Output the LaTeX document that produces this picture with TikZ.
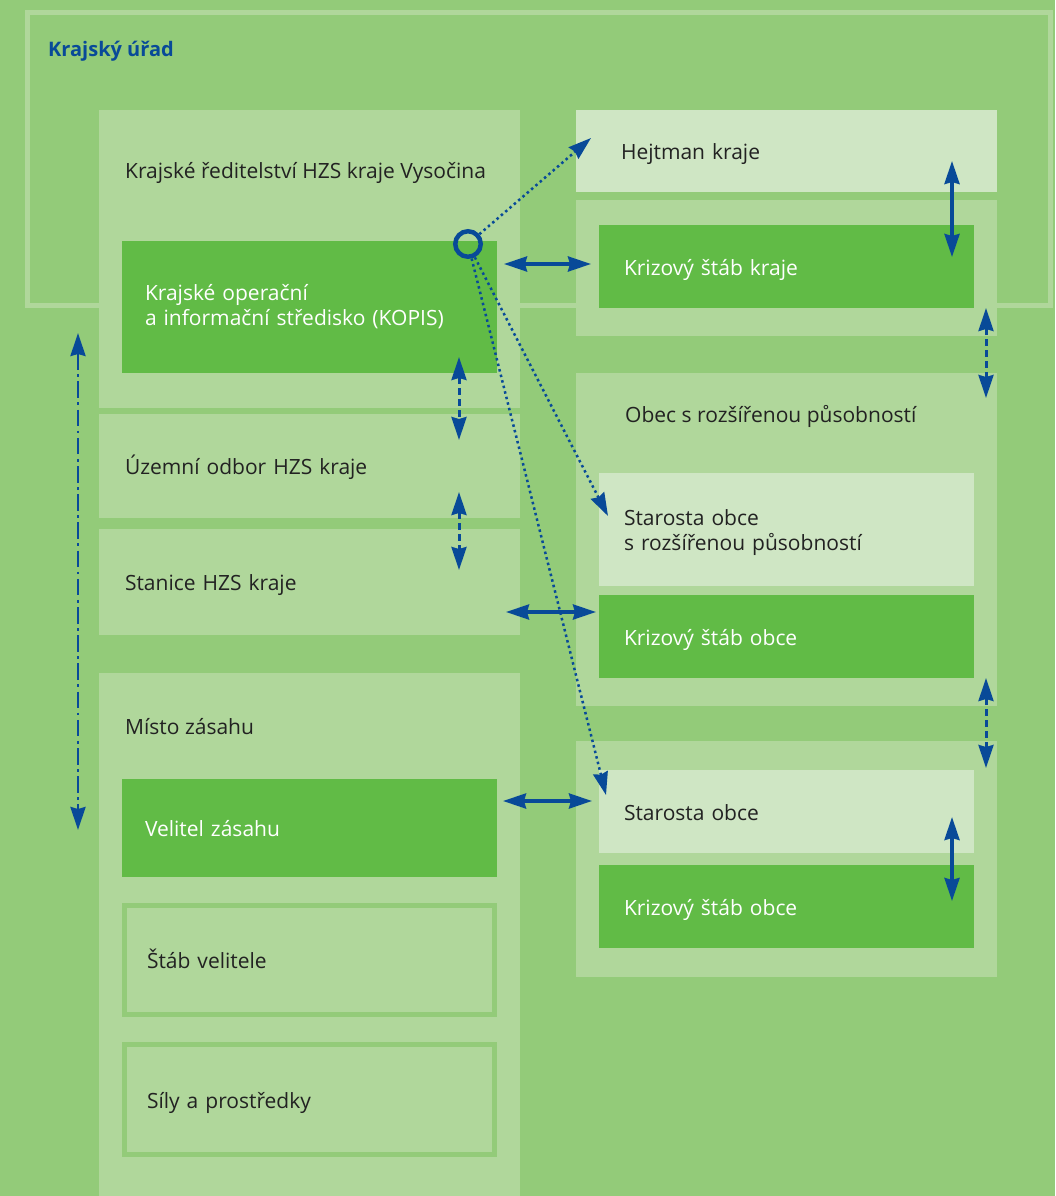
\documentclass[tikz,border=0pt]{standalone}
\usepackage{fontspec}
\setmainfont{Open Sans}
\usepackage{xcolor}
\usepackage{tikz}
\usetikzlibrary{positioning, arrows.meta}
\definecolor{bggreen}{RGB}{147,203,121}
\definecolor{panelgreen}{RGB}{176,215,155}
\definecolor{palegreen}{RGB}{207,230,196}
\definecolor{darkgreen}{RGB}{97,187,70}
\definecolor{hzsblue}{RGB}{8,74,152}
\definecolor{textgray}{RGB}{34,34,34}
\tikzset{
  panel box/.style={fill=panelgreen, anchor=north west, inner sep=0pt, outer sep=0pt, minimum width=421pt},
  text box/.style={anchor=north west, inner ysep=0pt, outer sep=0pt, align=left, text=textgray, text height=17pt, text depth=0pt, font=\fontsize{21pt}{25pt}\selectfont},
  wide box/.style={text box, fill=panelgreen, inner xsep=26pt, text width=369pt, minimum width=421pt},
  dark box/.style={text box, fill=darkgreen, text=white, inner xsep=25pt, text width=325pt, minimum width=375pt},
  pale box/.style={text box, fill=palegreen, inner xsep=25pt, text width=325pt, minimum width=375pt},
  frame box/.style={text box, fill=panelgreen, draw=bggreen, line width=5pt, inner xsep=22.5pt, text width=325pt, minimum width=370pt},
  title/.style={anchor=base west, inner sep=0pt, text=textgray, font=\fontsize{21pt}{25pt}\selectfont},
  link/.style={draw=hzsblue, line width=3.5pt, <->},
  dashed link/.style={link, line width=3pt, dash pattern=on 7pt off 4pt},
  dashdot link/.style={link, line width=2.7pt, dash pattern=on 16.5pt off 4.5pt on 2.7pt off 4.5pt},
  dotted link/.style={draw=hzsblue, line width=2.5pt, dash pattern=on 2.5pt off 3.2pt, ->}
}

\begin{document}
\begin{tikzpicture}[x=1pt, y=-1pt, >={Stealth[length=23pt, width=15pt, inset=2pt]}]
\useasboundingbox (0,0) rectangle (1055,1196);
\fill[bggreen] (0,0) rectangle (1055,1196);

\draw[panelgreen, line width=5pt] (27.5,12.5) rectangle (1050,305.5);
\node[anchor=base west, inner sep=0pt, text=hzsblue, font=\fontsize{20pt}{24pt}\selectfont\bfseries] (kraj) at (48,57) {Krajský úřad};

% left column
\node[panel box, minimum height=298pt] (hzs) at (99,110) {};
\node[title] (t-hzs) at (125,178) {Krajské ředitelství HZS kraje Vysočina};
\node[dark box, inner xsep=23pt, text width=329pt, minimum height=132pt, text depth=31pt, below right=131pt and 23pt of hzs.north west] (kopis) {Krajské operační\\a informační středisko (KOPIS)};
\node[wide box, minimum height=104pt, below=6pt of hzs] (uzemni) {Územní odbor HZS kraje};
\node[wide box, minimum height=106pt, below=11pt of uzemni] (stanice) {Stanice HZS kraje};

\node[panel box, minimum height=523pt] (misto) at (99,673) {};
\node[title] (t-misto) at (125,734) {Místo zásahu};
\node[dark box, inner xsep=23pt, text width=329pt, minimum height=98pt, below right=106pt and 23pt of misto.north west] (velitel) {Velitel zásahu};
\node[frame box, minimum height=109pt] (stab) at (124.5,905.5) {Štáb velitele};
\node[frame box, minimum height=110pt] (sily) at (124.5,1044.5) {Síly a prostředky};

% right column
\node[pale box, inner xsep=45pt, text width=331pt, minimum width=421pt, minimum height=82pt] (hejtman) at (576,110) {Hejtman kraje};
\node[panel box, minimum height=136pt] (kskp) at (576,200) {};
\node[dark box, minimum height=83pt, below right=25pt and 23pt of kskp.north west] (ksk) {Krizový štáb kraje};

\node[panel box, minimum height=333pt] (orp) at (576,373) {};
\node[title] (t-orp) at (625,422) {Obec s rozšířenou působností};
\node[pale box, minimum height=113pt, text depth=26pt, below right=100pt and 23pt of orp.north west] (starorp) {Starosta obce\\s rozšířenou působností};
\node[dark box, minimum height=83pt, below=9pt of starorp] (ksorp) {Krizový štáb obce};

\node[panel box, minimum height=236pt] (obec) at (576,741) {};
\node[pale box, minimum height=83pt, below right=29pt and 23pt of obec.north west] (starosta) {Starosta obce};
\node[dark box, minimum height=83pt, below=12pt of starosta] (ksobec) {Krizový štáb obce};

% connectors
\draw[link, shorten <=7pt, shorten >=8pt] (kopis.east |- 0,264) -- (ksk.west |- 0,264);
\draw[link] ([xshift=-93pt, yshift=-17pt]ksorp.north west) -- ([xshift=-3pt, yshift=-17pt]ksorp.north west);
\draw[link] ([xshift=6pt, yshift=-22pt]velitel.north east) -- ([xshift=-7pt, yshift=-31pt]starosta.north west);
\draw[link] ([xshift=-45pt, yshift=-51pt]hejtman.north east) -- ([xshift=-22pt, yshift=-32pt]ksk.north east);
\draw[link] ([xshift=-22pt, yshift=-47pt]starosta.north east) -- ([xshift=-22pt, yshift=-36pt]ksobec.north east);

\draw[dashed link] ([xshift=-38pt, yshift=16pt]kopis.south east) -- ([xshift=-61pt, yshift=-26pt]uzemni.north east);
\draw[dashed link] ([xshift=-61pt, yshift=26pt]uzemni.south east) -- ([xshift=-61pt, yshift=-41pt]stanice.north east);
\draw[dashed link] ([xshift=-11pt, yshift=28pt]kskp.south east) -- ([xshift=-11pt, yshift=-25pt]orp.north east);
\draw[dashed link] ([xshift=-11pt, yshift=28pt]orp.south east) -- ([xshift=-11pt, yshift=-27pt]obec.north east);

\draw[dashdot link] ([xshift=-21pt, yshift=75pt]hzs.south west) -- ([xshift=-21pt, yshift=-157pt]misto.north west);

\node[draw=hzsblue, circle, line width=4.5pt, minimum size=25.5pt, inner sep=0pt] (kanal) at (468,244) {};
\draw[dotted link] (kanal) -- ([xshift=15pt, yshift=-28pt]hejtman.north west);
\draw[dotted link] (kanal) -- ([xshift=9pt, yshift=-43pt]starorp.north west);
\draw[dotted link] (kanal) -- ([xshift=7pt, yshift=-25pt]starosta.north west);
\end{tikzpicture}
\end{document}
